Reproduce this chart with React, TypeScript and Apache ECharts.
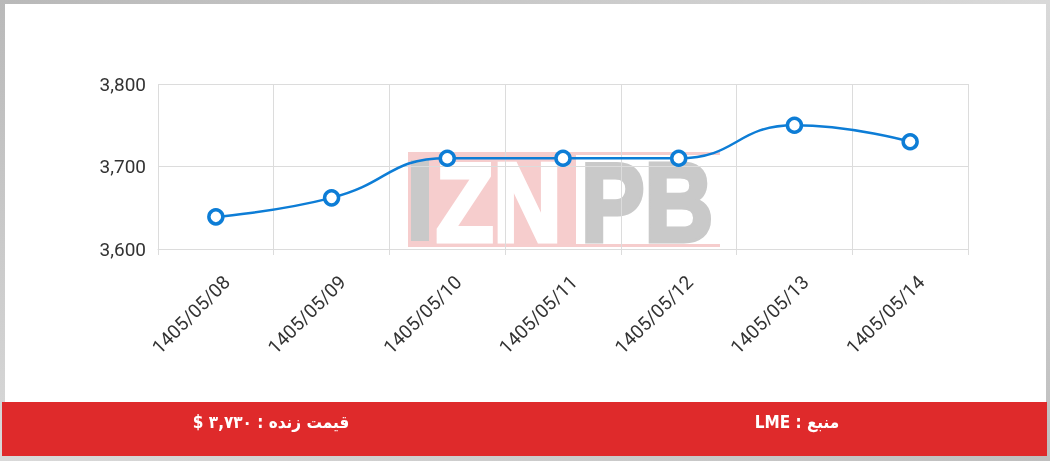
import React, { useEffect, useRef } from "react";
import * as echarts from "echarts";

const categories = [
  "1405/05/08",
  "1405/05/09",
  "1405/05/10",
  "1405/05/11",
  "1405/05/12",
  "1405/05/13",
  "1405/05/14",
];
const prices = [3639, 3662, 3710, 3710, 3710, 3750, 3730];
const yMin = 3600;
const yMax = 3800;
const yStep = 100;
const livePriceLabel = "قیمت زنده : ۳,۷۳۰ $";
const sourceLabel = "منبع : LME";
const watermarkLeft = "ZN";
const watermarkRight = "PB";

const RLE = "\u202B";
const PDF = "\u202C";

export default function App() {
  const ref = useRef<HTMLDivElement>(null);

  useEffect(() => {
    if (!ref.current) return;
    const chart = echarts.init(ref.current, null, { renderer: "svg" });
    const gridColor = "#dcdcdc";
    const lineColor = "#0d7dd6";
    const barFont = "bold 17px 'DejaVu Sans Condensed', 'DejaVu Sans', sans-serif";

    chart.setOption({
      animation: false,
      backgroundColor: "transparent",
      grid: { left: 158, right: 82, top: 84, bottom: 212, containLabel: false },
      graphic: [
        {
          type: "rect",
          z: -100,
          silent: true,
          shape: { x: 0, y: 0, width: 1050, height: 461 },
          style: {
            fill: new echarts.graphic.LinearGradient(0, 0, 1, 1, [
              { offset: 0, color: "#b9b9b9" },
              { offset: 0.5, color: "#d9d9d9" },
              { offset: 1, color: "#bfbfbf" },
            ]),
          },
        },
        {
          type: "rect",
          z: -99,
          silent: true,
          shape: { x: 5, y: 4, width: 1041, height: 452 },
          style: { fill: "#ffffff" },
        },
        {
          type: "rect",
          z: -98,
          silent: true,
          shape: { x: 2, y: 402, width: 1045, height: 54 },
          style: { fill: "#df2a2b" },
        },
        {
          type: "text",
          z: 10,
          x: 271,
          y: 422,
          style: {
            text: RLE + livePriceLabel + PDF,
            fill: "#ffffff",
            font: barFont,
            textAlign: "center",
            textVerticalAlign: "middle",
          },
        },
        {
          type: "text",
          z: 10,
          x: 797,
          y: 422,
          style: {
            text: RLE + sourceLabel + PDF,
            fill: "#ffffff",
            font: barFont,
            textAlign: "center",
            textVerticalAlign: "middle",
          },
        },
        // watermark logo
        {
          type: "rect",
          z: -50,
          silent: true,
          shape: { x: 408, y: 152, width: 168, height: 95 },
          style: { fill: "#f6cdcd" },
        },
        {
          type: "rect",
          z: -50,
          silent: true,
          shape: { x: 576, y: 152, width: 144, height: 3 },
          style: { fill: "#f6cdcd" },
        },
        {
          type: "rect",
          z: -50,
          silent: true,
          shape: { x: 576, y: 244, width: 144, height: 3 },
          style: { fill: "#f6cdcd" },
        },
        {
          type: "rect",
          z: -49,
          silent: true,
          shape: { x: 411, y: 160, width: 18, height: 81 },
          style: { fill: "#c9c9c9" },
        },
        {
          type: "text",
          z: -49,
          silent: true,
          x: 436,
          y: 202,
          scaleX: 0.84,
          style: {
            text: watermarkLeft,
            fill: "#ffffff",
            stroke: "#ffffff",
            lineWidth: 5,
            font: "bold 112px 'Liberation Sans', Arial, sans-serif",
            textAlign: "left",
            textVerticalAlign: "middle",
          },
        },
        {
          type: "text",
          z: -49,
          silent: true,
          x: 581,
          y: 202,
          scaleX: 0.85,
          style: {
            text: watermarkRight,
            fill: "#c9c9c9",
            stroke: "#c9c9c9",
            lineWidth: 5,
            font: "bold 112px 'Liberation Sans', Arial, sans-serif",
            textAlign: "left",
            textVerticalAlign: "middle",
          },
        },
      ],
      xAxis: {
        type: "category",
        data: categories,
        boundaryGap: true,
        axisLine: { show: true, lineStyle: { color: gridColor, width: 1 } },
        axisTick: { show: true, length: 6, lineStyle: { color: gridColor } },
        splitLine: { show: true, lineStyle: { color: gridColor, width: 1 } },
        axisLabel: {
          rotate: 45,
          margin: 19,
          fontSize: 19,
          color: "#333333",
          fontFamily: "Roboto, sans-serif",
          verticalAlign: "top",
          padding: [6, 0, 0, 0],
        },
      },
      yAxis: {
        type: "value",
        min: yMin,
        max: yMax,
        interval: yStep,
        axisLine: { show: false },
        axisTick: { show: false },
        splitLine: { show: true, lineStyle: { color: gridColor, width: 1 } },
        axisLabel: {
          margin: 12,
          fontSize: 19,
          color: "#333333",
          fontFamily: "Roboto, sans-serif",
          formatter: (v: number) => v.toLocaleString("en-US"),
        },
      },
      series: [
        {
          type: "line",
          data: prices,
          smooth: true,
          symbol: "circle",
          symbolSize: 14,
          showAllSymbol: true,
          lineStyle: { color: lineColor, width: 2.5 },
          itemStyle: { color: "#ffffff", borderColor: lineColor, borderWidth: 3.5 },
          z: 5,
        },
      ],
    });

    return () => chart.dispose();
  }, []);

  return (
    <div style={{ position: "fixed", left: 0, top: 0, width: 1050, height: 461 }}>
      <div ref={ref} style={{ width: 1050, height: 461 }} />
    </div>
  );
}
